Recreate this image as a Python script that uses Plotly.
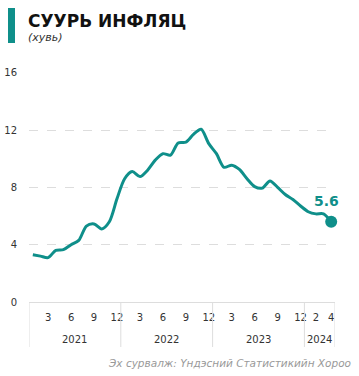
import plotly.graph_objects as go

# Core inflation, monthly, Jan 2021 – Apr 2024 (percent)
years = ["2021", "2022", "2023", "2024"]
months_per_year = [12, 12, 12, 4]
core_inflation = [
    3.3, 3.2, 3.1, 3.6, 3.65, 4.0, 4.3, 5.3, 5.45, 5.1, 5.6, 7.2,
    8.6, 9.1, 8.75, 9.2, 9.9, 10.35, 10.25, 11.1, 11.15, 11.7, 12.05, 11.05,
    10.35, 9.4, 9.55, 9.25, 8.6, 8.05, 7.95, 8.45, 8.0, 7.5, 7.15, 6.7,
    6.3, 6.15, 6.15, 5.6,
]
month_ticks = ["3", "6", "9", "12", "3", "6", "9", "12", "3", "6", "9", "12", "2", "4"]
month_tick_numbers = [3, 6, 9, 12, 3, 6, 9, 12, 3, 6, 9, 12, 2, 4]
y_ticks = [0, 4, 8, 12, 16]

TEAL = "#0f8f8a"
FONT = "DejaVu Sans, sans-serif"

# month index along the x axis
x_idx = list(range(len(core_inflation)))

# positions of month tick labels and year boundaries
year_start = []
s = 0
for n in months_per_year:
    year_start.append(s)
    s += n
tick_pos = []
yi = 0
for k, m in enumerate(month_tick_numbers):
    if k > 0 and m < month_tick_numbers[k - 1]:
        yi += 1
    tick_pos.append(year_start[yi] + m - 1)

fig = go.Figure()
fig.add_trace(go.Scatter(
    x=x_idx, y=core_inflation, mode="lines",
    line=dict(color=TEAL, width=3, shape="spline", smoothing=0.8),
    hoverinfo="skip", showlegend=False, cliponaxis=False,
))
fig.add_trace(go.Scatter(
    x=[x_idx[-1]], y=[core_inflation[-1]], mode="markers",
    marker=dict(color=TEAL, size=12),
    hoverinfo="skip", showlegend=False, cliponaxis=False,
))

L, R, T, B = 29, 24, 72, 74
W, H = 359, 376
pw = W - L - R
ph = H - T - B

def px_x(p):
    return (p - L) / pw

def px_y(p):
    return (H - B - p) / ph

shapes = []
# year separators below the axis
for b in year_start + [len(core_inflation)]:
    shapes.append(dict(type="line", xref="x", yref="paper",
                       x0=b - 0.5, x1=b - 0.5, y0=0, y1=px_y(347),
                       line=dict(color="#dddddd", width=1)))
# title accent bar
shapes.append(dict(type="rect", xref="paper", yref="paper",
                   x0=px_x(8), x1=px_x(15), y0=px_y(43), y1=px_y(8),
                   fillcolor=TEAL, line=dict(width=0)))

annotations = []
# value label for the latest month
annotations.append(dict(x=x_idx[-1], y=core_inflation[-1], xref="x", yref="y",
                        text=f"<b>{core_inflation[-1]:.1f}</b>", showarrow=False,
                        xshift=-5, yshift=21, yanchor="middle",
                        font=dict(family=FONT, size=14, color=TEAL)))
for yr, st, n in zip(years, year_start, months_per_year):
    annotations.append(dict(x=st + (n - 1) / 2, y=px_y(339), xref="x", yref="paper",
                            text=yr, showarrow=False, yanchor="middle",
                            font=dict(family=FONT, size=10, color="#333333")))
annotations.append(dict(x=px_x(26), y=px_y(21), xref="paper", yref="paper",
                        text="<b>СУУРЬ ИНФЛЯЦ</b>", showarrow=False,
                        xanchor="left", yanchor="middle",
                        font=dict(family=FONT, size=17, color="#111111")))
annotations.append(dict(x=px_x(26), y=px_y(38), xref="paper", yref="paper",
                        text="<i>(хувь)</i>", showarrow=False,
                        xanchor="left", yanchor="middle",
                        font=dict(family=FONT, size=11, color="#333333")))
annotations.append(dict(x=px_x(106), y=px_y(363), xref="paper", yref="paper",
                        text="<i>Эх сурвалж: Үндэсний Статистикийн Хороо</i>",
                        showarrow=False, xanchor="left", yanchor="middle",
                        font=dict(family=FONT, size=10.5, color="#999999")))

fig.update_layout(
    width=W, height=H,
    margin=dict(l=L, r=R, t=T, b=B, autoexpand=False),
    paper_bgcolor="white", plot_bgcolor="white",
    shapes=shapes, annotations=annotations,
    xaxis=dict(range=[-0.5, len(core_inflation) - 0.5],
               tickvals=tick_pos, ticktext=month_ticks,
               showgrid=False, zeroline=False, automargin=False,
               showline=True, linecolor="#dddddd", linewidth=1,
               ticks="", ticklabelstandoff=6,
               tickfont=dict(family=FONT, size=10, color="#333333"),
               fixedrange=True),
    yaxis=dict(range=[0, 16.05], tickvals=y_ticks,
               showgrid=True, gridcolor="#dddddd", griddash="dash", gridwidth=1,
               zeroline=False, showline=False, ticks="", automargin=False,
               ticklabelstandoff=11,
               tickfont=dict(family=FONT, size=10, color="#333333"),
               fixedrange=True),
)

fig.write_html("out.html")
